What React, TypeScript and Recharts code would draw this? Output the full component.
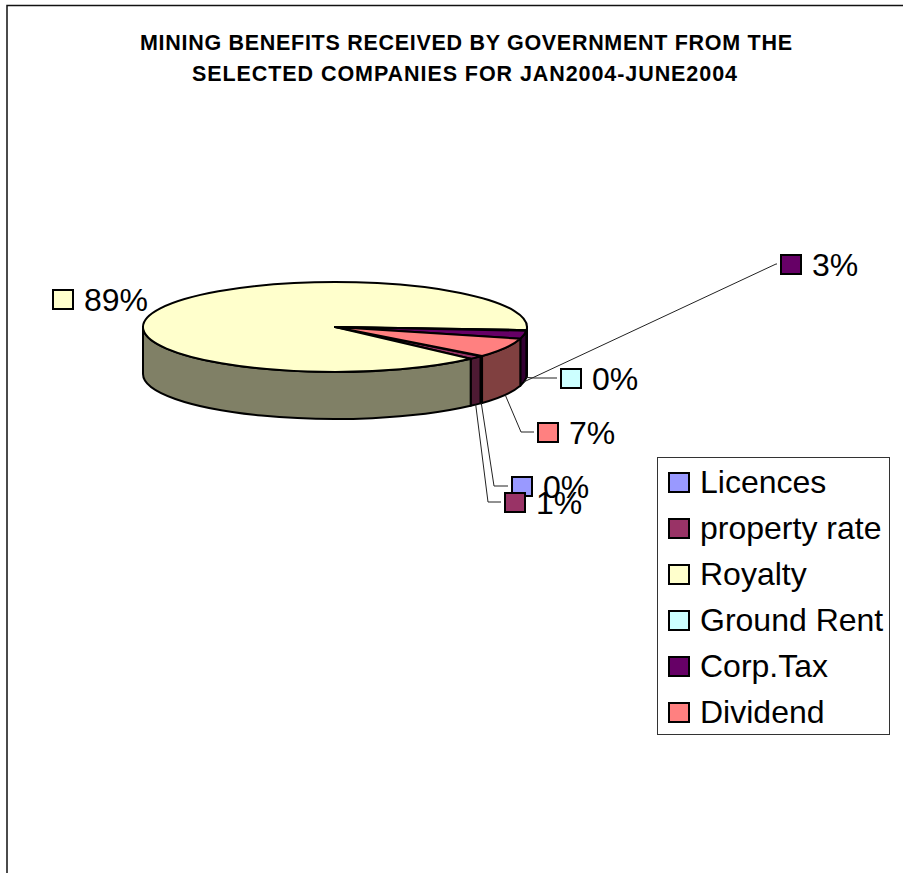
import { Legend, Pie, PieChart } from 'recharts'

const categories = ['Licences', 'property rate', 'Royalty', 'Ground Rent', 'Corp.Tax', 'Dividend']
const shares = [0.2, 1.2, 88.6, 0.2, 2.9, 6.9]
const topColors = ['#9999ff', '#993366', '#ffffcc', '#ccffff', '#660066', '#ff8080']
const wallColors = ['#4d4d80', '#4d1a33', '#808066', '#668080', '#330033', '#804040']
const titleLines = ['MINING BENEFITS RECEIVED BY GOVERNMENT FROM THE', 'SELECTED COMPANIES FOR JAN2004-JUNE2004']
const titleWidths = [652, 545]

// top left of each label's key, and the elbow of its leader line
const keySpots = [
  { x: 512, y: 477, elbowX: 494, elbowY: 486 },
  { x: 505, y: 493, elbowX: 488, elbowY: 502 },
  { x: 53, y: 290 },
  { x: 561, y: 369, elbowX: 534, elbowY: 378 },
  { x: 781, y: 255, elbowX: 776, elbowY: 264 },
  { x: 538, y: 423, elbowX: 521, elbowY: 432 },
]

const FONT = '"Liberation Sans", Arial, sans-serif'
const SQUASH = 45 / 192
const DEPTH = 47

const pieData = categories.map((name, i) => ({ name, value: shares[i], fill: topColors[i], wall: wallColors[i] }))

function edgePoint(cx: number, cy: number, r: number, deg: number) {
  const rad = (deg * Math.PI) / 180
  return { x: cx + r * Math.cos(rad), y: cy + r * SQUASH * Math.sin(rad) }
}

function PieSlice3D(props: any) {
  const { cx, cy, outerRadius: r, startAngle, endAngle, fill, wall } = props
  const from = -startAngle
  const to = -endAngle
  const ry = r * SQUASH
  const a = edgePoint(cx, cy, r, from)
  const b = edgePoint(cx, cy, r, to)
  const top = `M${cx},${cy} L${a.x},${a.y} A${r},${ry} 0 ${to - from > 180 ? 1 : 0} 1 ${b.x},${b.y} Z`

  // the outer wall only shows on the front half of the ellipse
  const walls: string[] = []
  for (const turn of [0, 360]) {
    const lo = Math.max(from, turn)
    const hi = Math.min(to, turn + 180)
    if (hi <= lo) continue
    const p = edgePoint(cx, cy, r, lo)
    const q = edgePoint(cx, cy, r, hi)
    walls.push(
      `M${p.x},${p.y} A${r},${ry} 0 0 1 ${q.x},${q.y} L${q.x},${q.y + DEPTH} A${r},${ry} 0 0 0 ${p.x},${p.y + DEPTH} Z`,
    )
  }

  return (
    <g>
      {walls.map((d) => (
        <path key={d} d={d} fill={wall} stroke="#000" strokeWidth={2} strokeLinejoin="round" />
      ))}
      <path d={top} fill={fill} stroke="#000" strokeWidth={2} strokeLinejoin="round" />
    </g>
  )
}

function SliceLabel(props: any) {
  const { cx, cy, outerRadius, midAngle, index, percent } = props
  const spot = keySpots[index]
  const start = edgePoint(cx, cy, outerRadius, -midAngle)
  const startY = start.y + DEPTH
  return (
    <g>
      {spot.elbowX !== undefined && (
        <polyline
          points={`${start.x},${startY} ${spot.elbowX},${spot.elbowY} ${spot.x - 4},${spot.elbowY}`}
          fill="none"
          stroke="#222"
          strokeWidth={1}
        />
      )}
      <rect x={spot.x} y={spot.y} width={20} height={19} fill={topColors[index]} stroke="#000" strokeWidth={2} />
      <text x={spot.x + 31} y={spot.y + 21} fontFamily={FONT} fontSize={32} fill="#000">
        {Math.round(percent * 100)}%
      </text>
    </g>
  )
}

function LegendBox({ payload }: any) {
  return (
    <div
      style={{
        boxSizing: 'border-box',
        width: 233,
        height: 278,
        paddingTop: 1,
        border: '1px solid #333',
        background: '#fff',
        fontFamily: FONT,
        fontSize: 32,
        color: '#000',
      }}
    >
      {(payload ?? []).map((item: any, i: number) => (
        <div key={item.value} style={{ display: 'flex', alignItems: 'center', height: 46, whiteSpace: 'nowrap' }}>
          <span
            style={{
              boxSizing: 'border-box',
              width: 22,
              height: 21,
              marginLeft: 10,
              marginRight: 10,
              border: '2px solid #000',
              background: topColors[i],
            }}
          />
          {item.value}
        </div>
      ))}
    </div>
  )
}

export default function App() {
  return (
    <div style={{ position: 'absolute', left: 0, top: 0, width: 903, height: 873, background: '#fff' }}>
      <PieChart width={903} height={873} margin={{ top: 0, right: 0, bottom: 0, left: 0 }}>
        <path d="M7,873 L7,5.5 L903,5.5" fill="none" stroke="#111" strokeWidth={1.5} />
        {titleLines.map((line, i) => (
          <text
            key={line}
            x={466 - (i === 1 ? 1.5 : 0)}
            y={50 + i * 31}
            textAnchor="middle"
            textLength={titleWidths[i]}
            lengthAdjust="spacing"
            fontFamily={FONT}
            fontWeight="bold"
            fontSize={21.5}
            fill="#000"
          >
            {line}
          </text>
        ))}
        <Pie
          data={pieData}
          dataKey="value"
          nameKey="name"
          cx={335}
          cy={327}
          outerRadius={192}
          startAngle={-40}
          endAngle={-400}
          stroke="#000"
          shape={PieSlice3D}
          label={SliceLabel}
          labelLine={false}
          isAnimationActive={false}
        />
        <Legend
          layout="vertical"
          align="right"
          verticalAlign="middle"
          itemSorter={null}
          content={LegendBox}
          wrapperStyle={{ left: 657, top: 457, width: 233, height: 278 }}
        />
      </PieChart>
    </div>
  )
}
